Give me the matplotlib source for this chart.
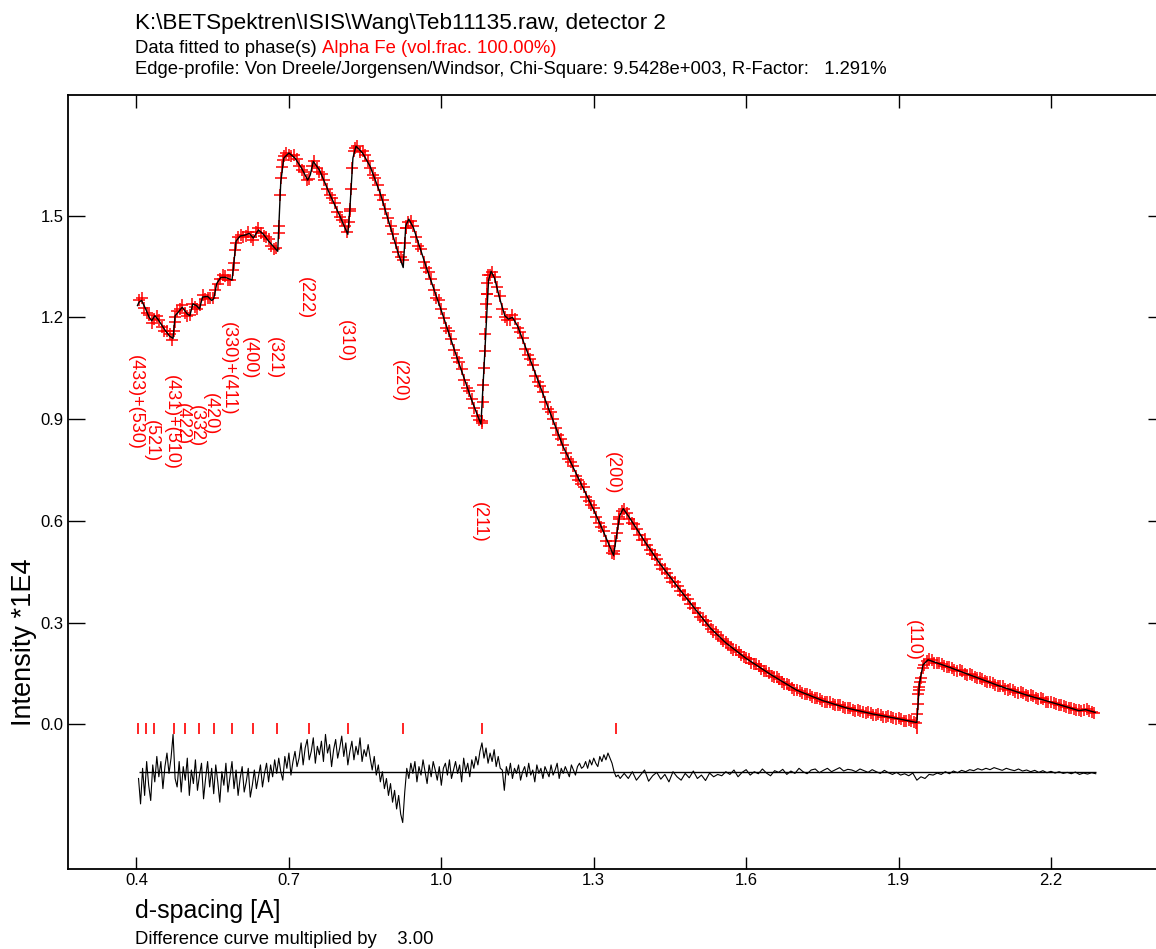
import numpy as np
import matplotlib.pyplot as plt
from matplotlib.ticker import FormatStrFormatter

plt.rcParams['font.family'] = ['Liberation Sans', 'DejaVu Sans']

# observed intensity (*1E4), one point every 0.01 A starting at 0.405 A
obs_start, obs_step = 0.405, 0.01
obs_I = [
    1.252, 1.228, 1.206, 1.195, 1.193, 1.160, 1.150, 1.185, 1.226, 1.214,
    1.208, 1.232, 1.236, 1.255, 1.258, 1.282, 1.312, 1.322, 1.310, 1.418,
    1.444, 1.440, 1.437, 1.452, 1.448, 1.438, 1.412, 1.404, 1.610, 1.684,
    1.676, 1.668, 1.636, 1.606, 1.648, 1.641, 1.622, 1.578, 1.553, 1.512,
    1.488, 1.452, 1.640, 1.706, 1.690, 1.662, 1.620, 1.590, 1.545, 1.492,
    1.446, 1.392, 1.368, 1.482, 1.470, 1.412, 1.364, 1.334, 1.282, 1.250,
    1.199, 1.160, 1.104, 1.068, 1.016, 0.982, 0.933, 0.896, 1.100, 1.326,
    1.320, 1.262, 1.200, 1.192, 1.195, 1.158, 1.108, 1.076, 1.026, 0.998,
    0.950, 0.920, 0.873, 0.842, 0.800, 0.774, 0.733, 0.709, 0.671, 0.646,
    0.610, 0.582, 0.540, 0.505, 0.565, 0.630, 0.624, 0.594, 0.576, 0.543,
    0.528, 0.501, 0.486, 0.459, 0.446, 0.421, 0.408, 0.382, 0.368, 0.342,
    0.329, 0.306, 0.294, 0.273, 0.264, 0.245, 0.236, 0.219, 0.212, 0.198,
    0.192, 0.178, 0.172, 0.158, 0.152, 0.138, 0.133, 0.120, 0.115, 0.102,
    0.099, 0.089, 0.087, 0.077, 0.075, 0.066, 0.065, 0.057, 0.056, 0.048,
    0.047, 0.040, 0.040, 0.033, 0.034, 0.027, 0.028, 0.021, 0.022, 0.016,
    0.015, 0.009, 0.009, 0.004, 0.135, 0.186, 0.190, 0.180, 0.178, 0.169,
    0.167, 0.158, 0.156, 0.146, 0.145, 0.135, 0.134, 0.124, 0.122, 0.113,
    0.112, 0.102, 0.101, 0.092, 0.091, 0.083, 0.082, 0.074, 0.073, 0.065,
    0.064, 0.057, 0.055, 0.048, 0.046, 0.041, 0.043, 0.040, 0.034,
]
# observed intensity in between, every 0.01 A starting at 0.410 A
obs2_start, obs2_step = 0.410, 0.01
obs2_I = [
    1.258, 1.212, 1.184, 1.204, 1.172, 1.160, 1.134, 1.218, 1.236, 1.205,
    1.240, 1.226, 1.266, 1.256, 1.258, 1.298, 1.324, 1.309, 1.340, 1.438,
    1.436, 1.453, 1.428, 1.464, 1.440, 1.430, 1.402, 1.450, 1.676, 1.680,
    1.678, 1.646, 1.630, 1.608, 1.662, 1.630, 1.606, 1.560, 1.538, 1.495,
    1.470, 1.515, 1.700, 1.688, 1.678, 1.640, 1.611, 1.560, 1.521, 1.470,
    1.420, 1.378, 1.465, 1.485, 1.436, 1.401, 1.345, 1.312, 1.258, 1.226,
    1.170, 1.135, 1.080, 1.047, 0.993, 0.960, 0.910, 0.895, 1.270, 1.335,
    1.290, 1.224, 1.192, 1.206, 1.170, 1.140, 1.090, 1.060, 1.010, 0.980,
    0.930, 0.901, 0.852, 0.823, 0.782, 0.761, 0.720, 0.699, 0.658, 0.637,
    0.594, 0.569, 0.526, 0.502, 0.605, 0.636, 0.604, 0.592, 0.558, 0.545,
    0.514, 0.500, 0.470, 0.458, 0.432, 0.419, 0.393, 0.380, 0.355, 0.342,
    0.317, 0.305, 0.281, 0.271, 0.252, 0.242, 0.226, 0.219, 0.203, 0.196,
    0.182, 0.177, 0.163, 0.157, 0.143, 0.138, 0.125, 0.120, 0.107, 0.102,
    0.092, 0.090, 0.080, 0.078, 0.068, 0.067, 0.059, 0.058, 0.050, 0.049,
    0.042, 0.042, 0.035, 0.035, 0.028, 0.029, 0.022, 0.023, 0.017, 0.018,
    0.011, 0.012, 0.006, 0.100, 0.176, 0.192, 0.181, 0.181, 0.171, 0.170,
    0.160, 0.159, 0.149, 0.148, 0.138, 0.136, 0.127, 0.125, 0.116, 0.114,
    0.105, 0.104, 0.095, 0.094, 0.085, 0.085, 0.076, 0.076, 0.067, 0.067,
    0.059, 0.057, 0.050, 0.048, 0.043, 0.040, 0.044, 0.036,
]

# observed points that sit on the steep Bragg edges
edge_d = [0.474, 0.476, 0.592, 0.594, 0.681, 0.683, 0.687, 0.689,
          0.818, 0.820, 0.822, 0.828, 0.928, 0.930,
          1.080, 1.082, 1.083, 1.084, 1.086, 1.087, 1.088, 1.089, 1.090, 1.092,
          1.340, 1.342, 1.347, 1.350,
          1.937, 1.938, 1.939, 1.940, 1.942, 1.948]
edge_I = [1.16, 1.20, 1.36, 1.40, 1.47, 1.56, 1.645, 1.665,
          1.48, 1.52, 1.58, 1.69, 1.42, 1.465,
          0.888, 0.95, 1.00, 1.05, 1.15, 1.20, 1.24, 1.27, 1.30, 1.325,
          0.51, 0.54, 0.59, 0.612,
          0.03, 0.06, 0.09, 0.11, 0.125, 0.165]

# calculated edge profile
calc_d = [0.402, 0.405, 0.410, 0.418, 0.425, 0.430, 0.436, 0.442, 0.455, 0.465,
          0.472, 0.476, 0.482, 0.490, 0.500, 0.505, 0.511, 0.518, 0.524, 0.530,
          0.540, 0.548, 0.552, 0.558, 0.566, 0.575, 0.588, 0.591, 0.596, 0.604,
          0.614, 0.622, 0.630, 0.640, 0.650, 0.660, 0.672, 0.678,
          0.684, 0.690, 0.700, 0.712, 0.725, 0.737, 0.742, 0.748, 0.760, 0.780,
          0.800, 0.816, 0.820, 0.826, 0.832, 0.845, 0.860, 0.880, 0.900, 0.915,
          0.925, 0.930, 0.936, 0.945, 0.970, 1.000, 1.030, 1.060, 1.078, 1.085,
          1.093, 1.098, 1.105, 1.115, 1.125, 1.132, 1.140, 1.150, 1.180, 1.210,
          1.240, 1.270, 1.300, 1.320, 1.339, 1.351, 1.358, 1.370, 1.400, 1.430,
          1.470, 1.500, 1.530, 1.560, 1.600, 1.650, 1.700, 1.750, 1.800, 1.850,
          1.900, 1.936, 1.941, 1.948, 1.958, 2.000, 2.050, 2.100, 2.150, 2.200,
          2.240, 2.255, 2.268, 2.287]
calc_I = [1.235, 1.245, 1.250, 1.225, 1.200, 1.190, 1.205, 1.195, 1.165, 1.145,
          1.138, 1.205, 1.215, 1.230, 1.210, 1.205, 1.240, 1.235, 1.225, 1.260,
          1.262, 1.250, 1.255, 1.300, 1.318, 1.318, 1.310, 1.350, 1.425, 1.440,
          1.443, 1.448, 1.434, 1.458, 1.445, 1.425, 1.405, 1.395,
          1.600, 1.670, 1.685, 1.670, 1.640, 1.605, 1.620, 1.660, 1.635, 1.565,
          1.500, 1.445, 1.520, 1.670, 1.705, 1.685, 1.645, 1.565, 1.465, 1.390,
          1.347, 1.470, 1.490, 1.465, 1.350, 1.220, 1.085, 0.955, 0.885, 1.080,
          1.310, 1.336, 1.315, 1.255, 1.205, 1.195, 1.200, 1.175, 1.055, 0.935,
          0.818, 0.725, 0.632, 0.565, 0.498, 0.615, 0.636, 0.610, 0.540, 0.474,
          0.396, 0.339, 0.283, 0.240, 0.194, 0.145, 0.100, 0.070, 0.047, 0.030,
          0.016, 0.005, 0.120, 0.175, 0.190, 0.168, 0.140, 0.112, 0.087, 0.065,
          0.047, 0.040, 0.043, 0.035]

# difference curve (x3), in 1E-3 units around its base line
diff_base = -0.14
diffA_start, diffA_step = 0.404, 0.004
diffA = [
    -20, -95, 10, -70, 30, -40, -85, 20, -30, 45, -15, 30, -50, 15, 55, -5, 40,
    110, -20,
    -45, 30, -60, 15, -25, 40, -70, 5, -35, 35, -55, -10, 25, -80, -20,
    30, -45, 10, -65, 20, -30, -90, 0, -40, 25, -60, -15, 30, -50, 5,
    -70, -20, 15, -60, -30, 10, -75, -40, 5, -50, -15, 20, -45, -5, 25,
    -30, 20, -15, 35, -5, 40, 0, -25, 45, 10, 55, -10, 30, 60, 15,
    40, 85, 20, 70, 95, 35, 60, 100, 25, 75, 50, 90, 30, 110, 55, 80, 15, 65,
    95, 40, 70, 105, 45, 85, 20, 60, 90, 35, 75, 50, 100, 30, 65, 45, 80,
    40, 5, 45, -10, 20, -30, 0, -50, -20, -70, -35, -90, -55, -110, -70, -125, -150, -60,
    10, -20, 25, -5, 30, -30, 15, -10, 35, 0, -35, 20, -15, 30, 5, -25, 15, -40,
    10, 25, -10, 35, -20, 5, 30, -5, 20, -30, 40, 0, 25, -15, 35, 10, 45,
    20, 60, 85, 40, 70, 25, 55, 30, 65, 15, 45, 10,
    5, -55, 15, -10, 25, -20, 10, -5, 20, -25, 0, 15, -15, 25, -10, 5, -30, 20, -5, 10,
    -20, 15, 0, -15, 20, -10, 5, 25, -20, 10, -5, 15, 0, -15, 20, 5, -10, 15, 25, 10,
    15, 30, 10, 35, 20, 40, 25, 15, 45, 30, 50, 35, 55, 40, 25,
    0, -15, -10, -20,
]
diffB_start, diffB_step = 1.360, 0.008
diffB = [
    -5, -20, 0, -25, -10, 5, -28, -12, -2, -22, -8, -30, 0, -15, -25, -5, -18, 2, -20, -10,
    -26, -4, -15, -8,
    -12, 0, -8, 5, -15, -2, 6, -10, 0, -6, 8, -4, -12, 3, -2, 7, -8, 2, -5, 10,
    0, -6, 5, 8, -3, 4, 10, 0, 6, 12, 2, 7,
    5, 0, 8, 3, -2, 6, 0, -5, 4, -3, -8, -2, -10, -6, -12, -4,
    -25, -15, -20, -8,
    -10, -4, -8, 0, -6, 2, -3, 4, 0, 6, 3, 9, 5, 10, 6, 12, 8, 4, 10, 6,
    3, 8, 2, 5, 0, 4, -2, 3, -3, 1, -4, 0, -5, -2, -6, -1, -8, -4, -7, -3, -6,
]

# reflection positions (Alpha Fe) and their labels
refl_d = [0.403, 0.4187, 0.4354, 0.4738, 0.4964, 0.5228, 0.5521, 0.5875,
          0.6288, 0.677, 0.7388, 0.8171, 0.9239, 1.0807, 1.3433, 1.9359]
label_text = ['(433)+(530)', '(521)', '(431)+(510)', '(422)', '(332)', '(420)',
              '(330)+(411)', '(400)', '(321)', '(222)', '(310)', '(220)',
              '(211)', '(200)', '(110)']
label_d = [0.403, 0.4354, 0.4738, 0.4964, 0.5228, 0.5521, 0.5875, 0.6288,
           0.677, 0.7388, 0.8171, 0.9239, 1.0807, 1.3433, 1.9359]
label_top = [1.090, 0.898, 1.031, 0.948, 0.942, 0.978, 1.187, 1.143,
             1.143, 1.320, 1.193, 1.075, 0.656, 0.804, 0.308]

xticks = [0.4, 0.7, 1.0, 1.3, 1.6, 1.9, 2.2]
yticks = [0.0, 0.3, 0.6, 0.9, 1.2, 1.5]

obs_d = obs_start + obs_step * np.arange(len(obs_I))
obs2_d = obs2_start + obs2_step * np.arange(len(obs2_I))
diffA_d = diffA_start + diffA_step * np.arange(len(diffA))
diffB_d = diffB_start + diffB_step * np.arange(len(diffB))
diff_d = np.concatenate([diffA_d, diffB_d])
diff_I = diff_base + np.array(diffA + diffB) / 1000.0

fig = plt.figure(figsize=(11.56, 9.49), dpi=100)
ax = fig.add_axes([68 / 1156, 80 / 949, 1097 / 1156, 774 / 949])

mk = dict(linestyle='none', marker='+', color='red', ms=9, mew=1.1)
ax.plot(obs_d, obs_I, **mk)
ax.plot(obs2_d, obs2_I, **mk)
ax.plot(edge_d, edge_I, **mk)
ax.plot(calc_d, calc_I, color='black', lw=1.0)

ax.hlines(diff_base, diffA_d[0], diffB_d[-1], color='black', lw=1.0)
ax.plot(diff_d, diff_I, color='black', lw=0.8)

ax.vlines(refl_d, -0.028, 0.004, color='red', lw=1.2)
for t, d, top in zip(label_text, label_d, label_top):
    ax.annotate(t, xy=(d, top), xytext=(-3, 0), textcoords='offset pixels',
                rotation=-90, ha='center', va='top', color='red', fontsize=13)

ax.set_xlim(0.2652, 2.4244)
ax.set_ylim(-0.427, 1.856)
ax.set_xticks(xticks)
ax.set_yticks(yticks)
ax.xaxis.set_major_formatter(FormatStrFormatter('%.1f'))
ax.yaxis.set_major_formatter(FormatStrFormatter('%.1f'))
ax.tick_params(direction='in', top=True, right=True, labelsize=12, width=1, pad=3)
ax.tick_params(axis='x', length=9)
ax.tick_params(axis='y', length=12.5)
for s in ax.spines.values():
    s.set_linewidth(1.3)

x0 = 135 / 1156
fig.text(x0, 1 - 29 / 949, 'K:\\BETSpektren\\ISIS\\Wang\\Teb11135.raw, detector 2',
         fontsize=16.2, va='baseline')
t1 = fig.text(x0, 1 - 53 / 949, 'Data fitted to phase(s) ', fontsize=13.3, va='baseline')
ax.annotate('Alpha Fe (vol.frac. 100.00%)', xy=(1, 0), xycoords=t1,
            ha='left', va='bottom', fontsize=13.3, color='red')
fig.text(x0, 1 - 74 / 949,
         'Edge-profile: Von Dreele/Jorgensen/Windsor, Chi-Square: 9.5428e+003, R-Factor:   1.291%',
         fontsize=13.3, va='baseline')
fig.text(x0, 1 - 918 / 949, 'd-spacing [A]', fontsize=18, va='baseline')
fig.text(x0, 1 - 944 / 949, 'Difference curve multiplied by    3.00', fontsize=13.3,
         va='baseline')
fig.text(24 / 1156, 1 - 726 / 949, 'Intensity *1E4', rotation=90, ha='center',
         va='bottom', fontsize=19.5)

fig.savefig('out.png', dpi=100)
